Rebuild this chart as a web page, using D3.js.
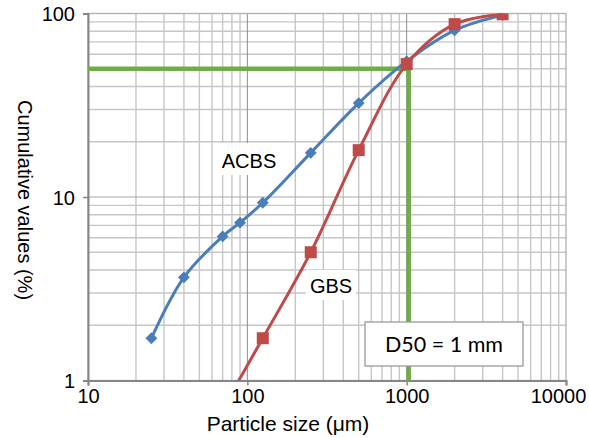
<!DOCTYPE html>
<html>
<head>
<meta charset="utf-8">
<script src="https://cdn.jsdelivr.net/npm/d3@7"></script>
<style>
  body { margin: 0; background: #fff; }
  text { font-family: "Liberation Sans", Arial, sans-serif; }
</style>
</head>
<body>
<div id="chart"></div>
<script>
// data
var acbsSize = [25, 40, 70, 90, 125, 250, 500, 1000, 2000, 4000];
var acbsCum = [1.7, 3.65, 6.1, 7.25, 9.3, 17.4, 32.5, 55, 81, 98];
var gbsSize = [63, 125, 250, 500, 1000, 2000, 4000];
var gbsCum = [0.6, 1.7, 5.0, 18.0, 53, 87.5, 99];
var d50 = 1030, d50Level = 50;
var xTicks = [10, 100, 1000, 10000];
var yTicks = [1, 10, 100];

var svgWidth = 589, svgHeight = 438;
var margin = { top: 13.5, right: 23, bottom: 57.5, left: 88 };
var width = svgWidth - margin.left - margin.right;
var height = svgHeight - margin.top - margin.bottom;

var svg = d3.select("#chart").append("svg")
    .attr("width", svgWidth)
    .attr("height", svgHeight);

var chart = svg.append("g")
    .attr("transform", "translate(" + margin.left + "," + margin.top + ")");

var x = d3.scaleLog().domain([10, 10000]).range([0, width]);
var y = d3.scaleLog().domain([1, 100]).range([height, 0]);

// minor grid
var minorX = [], minorY = [];
[10, 100, 1000].forEach(function(d) {
    for (var k = 2; k <= 9; k++) minorX.push(d * k);
});
[1, 10].forEach(function(d) {
    for (var k = 2; k <= 9; k++) minorY.push(d * k);
});

chart.selectAll(".gx").data(minorX).enter().append("line")
    .attr("x1", function(d) { return x(d); })
    .attr("x2", function(d) { return x(d); })
    .attr("y1", 0).attr("y2", height)
    .attr("stroke", "#c6c6c6").attr("stroke-width", 1.4);

chart.selectAll(".gy").data(minorY).enter().append("line")
    .attr("y1", function(d) { return y(d); })
    .attr("y2", function(d) { return y(d); })
    .attr("x1", 0).attr("x2", width)
    .attr("stroke", "#c6c6c6").attr("stroke-width", 1.4);

// major grid
chart.selectAll(".mx").data([100, 1000]).enter().append("line")
    .attr("x1", function(d) { return x(d); })
    .attr("x2", function(d) { return x(d); })
    .attr("y1", 0).attr("y2", height)
    .attr("stroke", "#8c8c8c").attr("stroke-width", 1);

chart.selectAll(".my").data([10]).enter().append("line")
    .attr("y1", function(d) { return y(d); })
    .attr("y2", function(d) { return y(d); })
    .attr("x1", 0).attr("x2", width)
    .attr("stroke", "#a8a8a8").attr("stroke-width", 1.2);

// frame
chart.append("rect")
    .attr("width", width).attr("height", height)
    .attr("fill", "none").attr("stroke", "#b0b0b0").attr("stroke-width", 1.3);

// axes
var bottomAxis = d3.axisBottom(x).tickValues(xTicks).tickFormat(d3.format("d")).tickSize(5).tickPadding(3);
var leftAxis = d3.axisLeft(y).tickValues(yTicks).tickFormat(d3.format("d")).tickSize(5).tickPadding(8);

var gx = chart.append("g").attr("transform", "translate(0," + height + ")").call(bottomAxis);
var gy = chart.append("g").call(leftAxis);
[gx, gy].forEach(function(g) {
    g.select(".domain").attr("stroke", "#868686").attr("stroke-width", 2);
    g.selectAll(".tick line").attr("stroke", "#868686").attr("stroke-width", 1.5);
    g.selectAll(".tick text").attr("fill", "#000").style("font-size", "20px")
        .style("font-family", "'Liberation Sans', Arial, sans-serif");
});
gy.selectAll(".tick text").attr("dy", "0.35em");
// Excel pulls the last label in so it stays inside the picture
gx.selectAll(".tick text").filter(function(d) { return d === 10000; }).attr("x", -8);

// axis titles
svg.append("text")
    .attr("x", 288)
    .attr("y", 431)
    .attr("text-anchor", "middle")
    .style("font-size", "21px")
    .text("Particle size (\u03bcm)");

svg.append("text")
    .attr("transform", "translate(18,200) rotate(90)")
    .attr("text-anchor", "middle")
    .style("font-size", "20px")
    .text("Cumulative values (%)");

// D50 marker lines
chart.append("path")
    .attr("d", "M0," + y(d50Level) + "H" + x(d50) + "V" + height)
    .attr("fill", "none")
    .attr("stroke", "#70ad47")
    .attr("stroke-width", 4.5);

// series
chart.append("clipPath").attr("id", "plotclip")
    .append("rect").attr("width", width).attr("height", height);

var line = d3.line()
    .x(function(d) { return x(d[0]); })
    .y(function(d) { return y(d[1]); })
    .curve(d3.curveCatmullRom.alpha(0.5));

var acbs = d3.zip(acbsSize, acbsCum);
var gbs = d3.zip(gbsSize, gbsCum);

var plot = chart.append("g").attr("clip-path", "url(#plotclip)");

plot.append("path").datum(acbs).attr("d", line)
    .attr("fill", "none").attr("stroke", "#4a7ebb").attr("stroke-width", 3);

plot.selectAll(".dia").data(acbs).enter().append("path")
    .attr("d", d3.symbol().type(d3.symbolDiamond2).size(90))
    .attr("transform", function(d) { return "translate(" + x(d[0]) + "," + y(d[1]) + ")"; })
    .attr("fill", "#4a7ebb");

plot.append("path").datum(gbs).attr("d", line)
    .attr("fill", "none").attr("stroke", "#be4b48").attr("stroke-width", 3);

plot.selectAll(".sq").data(gbs).enter().append("rect")
    .attr("x", function(d) { return x(d[0]) - 6; })
    .attr("y", function(d) { return y(d[1]) - 6; })
    .attr("width", 12).attr("height", 12)
    .attr("fill", "#be4b48");

// series labels with white backing
function label(text, cx, baseline, bw, bh) {
    svg.append("rect")
        .attr("x", cx - bw / 2).attr("y", baseline - bh + 7)
        .attr("width", bw).attr("height", bh)
        .attr("fill", "#fff");
    svg.append("text")
        .attr("x", cx).attr("y", baseline)
        .attr("text-anchor", "middle")
        .style("font-size", "20px")
        .text(text);
}
label("ACBS", 249, 168, 64, 32);
label("GBS", 331, 293, 50, 30);

// D50 box
svg.append("rect")
    .attr("x", 365).attr("y", 322)
    .attr("width", 158).attr("height", 44)
    .attr("fill", "#fff").attr("stroke", "#9a9a9a").attr("stroke-width", 1.3);
svg.append("text")
    .attr("x", 444).attr("y", 352)
    .attr("text-anchor", "middle")
    .style("font-size", "21.5px")
    .style("font-family", "Lato, 'Open Sans', sans-serif")
    .text("D50 = 1 mm");
</script>
</body>
</html>
